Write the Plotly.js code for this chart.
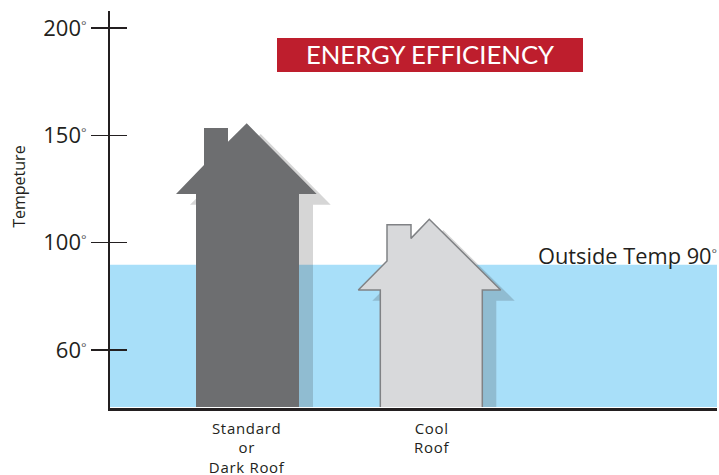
<!DOCTYPE html>
<html>
<head>
<meta charset="utf-8">
<script src="https://cdn.plot.ly/plotly-3.0.1.min.js"></script>
<style>
html,body{margin:0;padding:0;background:#fff}#chart{width:719px;height:475px}
#chart .xtick text{letter-spacing:.7px}
</style>
</head>
<body>
<div id="chart"></div>
<script>
// Axis: the source evenly spaces ticks; its lowest tick is labelled 60 but sits at 50 on the linear scale
var deg = '<span style="font-size:13px;baseline-shift:6px;fill:#58595b">°</span>';
var tempTickPositions = [50, 100, 150, 200];
var tempTickLabels = ['60' + deg, '100' + deg, '150' + deg, '200' + deg];
var roofTickPositions = [137.7, 322.7];
var roofTickLabels = ['Standard<br>or<br>Dark Roof', 'Cool<br>Roof'];

var waterX = [1, 608, 608, 1];
var waterY = [23.5, 23.5, 89.7, 89.7];

var darkHouseX = [87, 87, 67, 95, 95, 119, 119, 137.7, 207.7, 190, 190];
var darkHouseY = [23.5, 122.7, 122.7, 136.2, 153.4, 153.4, 147, 155.6, 122.7, 122.7, 23.5];
var darkShadowX = [101, 101, 81, 151.7, 221.7, 204, 204];
var darkShadowY = [23.5, 117.7, 117.7, 150.6, 117.7, 117.7, 23.5];

var coolHouseX = [271.3, 271.3, 249.3, 278, 278, 302, 302, 320.3, 391.7, 373.3, 373.3];
var coolHouseY = [23.5, 78, 78, 91.5, 108.4, 108.4, 102, 110.9, 78, 78, 23.5];
var coolShadowX = [285.3, 285.3, 263.3, 334.3, 405.7, 387.3, 387.3];
var coolShadowY = [23.5, 73, 73, 105.9, 73, 73, 23.5];

function area(x, y, fill, lineColor, lineWidth) {
  return {
    x: x, y: y, type: 'scatter', mode: 'lines', fill: 'toself', fillcolor: fill,
    line: {color: lineColor || fill, width: lineWidth || 0}, hoverinfo: 'skip', showlegend: false
  };
}

var shadowFill = 'rgba(48,48,48,0.2)';
var traces = [
  area(waterX, waterY, '#a8dff9'),
  area(darkShadowX, darkShadowY, shadowFill),
  area(darkHouseX, darkHouseY, '#6d6e70'),
  area(coolShadowX, coolShadowY, shadowFill),
  area(coolHouseX, coolHouseY, '#d8d9db', '#808285', 1.5)
];

var font = 'Open Sans, sans-serif';
var ink = '#231f20';
var yRange = [23, 207.9];
var layout = {
  width: 719, height: 475,
  margin: {l: 110, r: 2, t: 11, b: 67},
  paper_bgcolor: '#fff', plot_bgcolor: '#fff',
  showlegend: false,
  title: {
    text: 'ENERGY EFFICIENCY',
    font: {family: 'Lato, sans-serif', size: 25.7, color: '#fff'},
    x: 430 / 719, xanchor: 'center', xref: 'container',
    y: 1 - 55 / 475, yanchor: 'middle', yref: 'container'
  },
  shapes: [{type: 'rect', xref: 'x', yref: 'y', x0: 168, x1: 474, y0: 179.5, y1: 195.3,
            fillcolor: '#be1e2d', line: {width: 0}, layer: 'above'}],
  xaxis: {
    range: [1, 608], showgrid: false, zeroline: false, fixedrange: true,
    showline: true, linecolor: ink, linewidth: 2.5,
    tickmode: 'array', tickvals: roofTickPositions, ticktext: roofTickLabels,
    ticks: '', ticklabelstandoff: 5, tickfont: {family: font, size: 15, color: ink}
  },
  yaxis: {
    range: yRange, showgrid: false, zeroline: false, fixedrange: true,
    showline: true, linecolor: ink, linewidth: 2,
    tickmode: 'array', tickvals: tempTickPositions, ticktext: tempTickLabels,
    ticks: 'outside', ticklen: 17, tickwidth: 1.5, tickcolor: ink,
    tickfont: {family: font, size: 22, color: ink}
  },
  yaxis2: {
    range: yRange, overlaying: 'y', side: 'left', anchor: 'x', showgrid: false, zeroline: false, fixedrange: true,
    tickmode: 'array', tickvals: tempTickPositions, ticktext: ['', '', '', ''],
    ticks: 'inside', ticklen: 17, tickwidth: 1.5, tickcolor: ink, showline: false
  },
  annotations: [
    {text: 'Outside Temp 90' + deg, xref: 'paper', yref: 'y', x: 1.003, y: 90, xanchor: 'right', yanchor: 'bottom',
     showarrow: false, font: {family: font, size: 21.8, color: ink}, yshift: -8},
    {text: 'Tempeture', xref: 'paper', yref: 'y', x: -0.15, y: 126, textangle: -90, xanchor: 'center', yanchor: 'middle',
     showarrow: false, font: {family: font, size: 16, color: ink}}
  ]
};
traces.push({x: [1], y: [50], yaxis: 'y2', type: 'scatter', mode: 'markers', marker: {opacity: 0}, hoverinfo: 'skip', showlegend: false});

Plotly.newPlot('chart', traces, layout, {displayModeBar: false, staticPlot: true});
</script>
</body>
</html>
